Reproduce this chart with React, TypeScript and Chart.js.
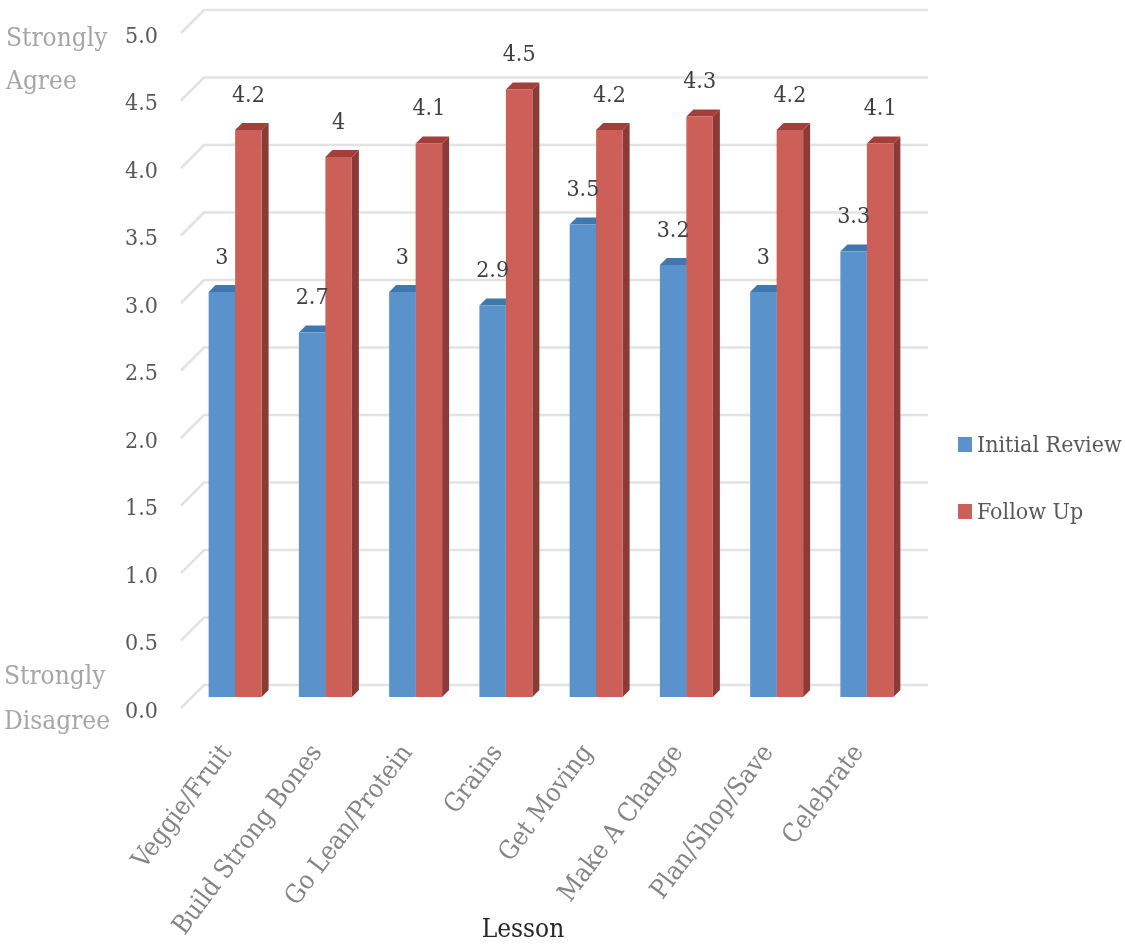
import React, { useEffect, useRef } from "react";
import { Chart, registerables } from "chart.js";

Chart.register(...registerables);

const categories = ["Veggie/Fruit", "Build Strong Bones", "Go Lean/Protein", "Grains", "Get Moving", "Make A Change", "Plan/Shop/Save", "Celebrate"];
const initialReview = [3, 2.7, 3, 2.9, 3.5, 3.2, 3, 3.3];
const followUp = [4.2, 4, 4.1, 4.5, 4.2, 4.3, 4.2, 4.1];
const seriesNames = ["Initial Review", "Follow Up"];

const FONT = '"DejaVu Serif Condensed", "DejaVu Serif", serif';
const BLUE = "#5A93CB";
const RED = "#CC5F57";
const SHADES = [
  { top: "#3F78AE", side: "#34618C" },
  { top: "#A23F3A", side: "#8B3A36" },
];

const threeD = {
  id: "threeD",
  beforeDatasetsDraw(chart: any) {
    const { ctx, scales } = chart;
    const y = scales.y;
    ctx.save();
    ctx.strokeStyle = "#E3E3E3";
    ctx.lineWidth = 2.5;
    for (const t of y.ticks) {
      const py = y.getPixelForValue(t.value);
      ctx.beginPath();
      ctx.moveTo(181, py + 11);
      ctx.lineTo(204, py - 12);
      ctx.lineTo(928, py - 12);
      ctx.stroke();
    }
    const dx = 7;
    const dy = 7;
    chart.data.datasets.forEach((_: any, di: number) => {
      const meta = chart.getDatasetMeta(di);
      meta.data.forEach((bar: any) => {
        const hw = bar.width / 2;
        const l = bar.x - hw;
        const r = bar.x + hw;
        ctx.fillStyle = SHADES[di].side;
        ctx.beginPath();
        ctx.moveTo(r, bar.y);
        ctx.lineTo(r + dx, bar.y - dy);
        ctx.lineTo(r + dx, bar.base - dy);
        ctx.lineTo(r, bar.base);
        ctx.closePath();
        ctx.fill();
        ctx.fillStyle = SHADES[di].top;
        ctx.beginPath();
        ctx.moveTo(l, bar.y);
        ctx.lineTo(l + dx, bar.y - dy);
        ctx.lineTo(r + dx, bar.y - dy);
        ctx.lineTo(r, bar.y);
        ctx.closePath();
        ctx.fill();
      });
    });
    ctx.restore();
  },
  afterDatasetsDraw(chart: any) {
    const { ctx } = chart;
    ctx.save();
    ctx.font = `23px ${FONT}`;
    ctx.fillStyle = "#404040";
    ctx.textAlign = "center";
    ctx.textBaseline = "middle";
    chart.data.datasets.forEach((ds: any, di: number) => {
      chart.getDatasetMeta(di).data.forEach((bar: any, i: number) => {
        ctx.fillText(String(ds.data[i]), bar.x, bar.y - 34);
      });
    });
    ctx.restore();
  },
  afterDraw(chart: any) {
    const { ctx } = chart;
    ctx.save();
    ctx.textBaseline = "middle";
    ctx.textAlign = "left";
    ctx.font = `26px ${FONT}`;
    ctx.fillStyle = "#A6A6A6";
    ctx.fillText("Strongly", 6, 39);
    ctx.fillText("Agree", 6, 82);
    ctx.fillText("Strongly", 4, 677);
    ctx.fillText("Disagree", 4, 722);

    ctx.textAlign = "center";
    ctx.fillStyle = "#262626";
    ctx.font = `26px ${FONT}`;
    ctx.fillText("Lesson", 523, 930);

    ctx.textAlign = "left";
    ctx.font = `23px ${FONT}`;
    chart.data.datasets.forEach((ds: any, di: number) => {
      const cy = 444 + di * 67;
      ctx.fillStyle = ds.backgroundColor;
      ctx.fillRect(958, cy - 7, 14, 15);
      ctx.fillStyle = "#595959";
      ctx.fillText(ds.label, 977, cy + 2);
    });
    ctx.restore();
  },
};

export default function App() {
  const ref = useRef<HTMLCanvasElement>(null);
  useEffect(() => {
    const chart = new Chart(ref.current as HTMLCanvasElement, {
      type: "bar",
      data: {
        labels: categories,
        datasets: [
          { label: seriesNames[0], data: initialReview, backgroundColor: BLUE, categoryPercentage: 0.587, barPercentage: 1 },
          { label: seriesNames[1], data: followUp, backgroundColor: RED, categoryPercentage: 0.587, barPercentage: 1 },
        ],
      },
      options: {
        responsive: false,
        animation: false,
        layout: { padding: { top: 22, right: 213, bottom: 0, left: 0 } },
        plugins: { legend: { display: false }, title: { display: false }, tooltip: { enabled: false } },
        scales: {
          x: {
            grid: { display: false, drawTicks: false },
            border: { display: false },
            afterFit: (s: any) => { s.height = 248; s.paddingTop = 0; s.paddingBottom = 0; },
            ticks: {
              autoSkip: false,
              minRotation: 53,
              maxRotation: 53,
              padding: 42,
              labelOffset: -8,
              color: "#858585",
              font: { family: FONT, size: 26 },
            },
          },
          y: {
            min: 0,
            max: 5,
            grid: { display: false, drawTicks: false },
            border: { display: false },
            afterFit: (s: any) => { s.width = 190; s.paddingTop = 0; s.paddingBottom = 0; },
            ticks: {
              stepSize: 0.5,
              padding: 32,
              labelOffset: 15,
              color: "#595959",
              font: { family: FONT, size: 23 },
              callback: (v: any) => Number(v).toFixed(1),
            },
          },
        },
      },
      plugins: [threeD],
    } as any);
    return () => chart.destroy();
  }, []);
  return (
    <div style={{ position: "absolute", left: 0, top: 0, width: 1125, height: 945, overflow: "hidden", background: "#fff" }}>
      <canvas ref={ref} width={1125} height={945} style={{ display: "block", filter: "blur(0.6px)" }} />
    </div>
  );
}
